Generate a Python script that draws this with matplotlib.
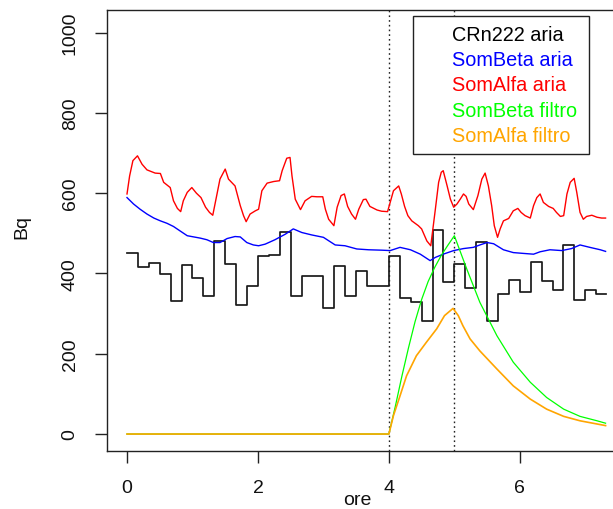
import numpy as np
import matplotlib
matplotlib.use("Agg")
import matplotlib.pyplot as plt
from matplotlib.patches import Rectangle

plt.rcParams['font.family'] = ['Liberation Sans', 'DejaVu Sans']

# --- CRn222 aria: 10-minute step values (hours) ---
rn_step = 1.0 / 6.0
rn_vals = [450, 417, 425, 398, 332, 422, 389, 343, 481, 423, 321, 369,
           443, 446, 504, 345, 394, 393, 315, 418, 345, 407, 369, 369,
           444, 339, 328, 282, 509, 378, 423, 365, 479, 282, 349, 384,
           354, 428, 382, 359, 471, 334, 359, 349]
t_end = 7.31

# --- SomAlfa aria ---
alfa_t = [0.00, 0.04, 0.09, 0.16, 0.23, 0.305, 0.43, 0.51, 0.56, 0.66, 0.71, 0.77,
          0.82, 0.86, 0.92, 0.99, 1.06, 1.13, 1.20, 1.26, 1.31, 1.37, 1.42, 1.50,
          1.55, 1.65, 1.73, 1.78, 1.82, 1.88, 1.96, 2.01, 2.06, 2.14, 2.24, 2.33,
          2.37, 2.44, 2.49, 2.52, 2.57, 2.65, 2.72, 2.82, 2.90, 2.99, 3.03, 3.08,
          3.16, 3.21, 3.27, 3.32, 3.37, 3.43, 3.49, 3.54, 3.61, 3.65, 3.71, 3.82,
          3.89, 3.98, 4.02, 4.07, 4.15, 4.19, 4.24, 4.29, 4.35, 4.45, 4.50, 4.58,
          4.64, 4.71, 4.76, 4.80, 4.83, 4.89, 4.94, 4.99, 5.04, 5.09, 5.14, 5.18,
          5.22, 5.29, 5.36, 5.42, 5.47, 5.52, 5.57, 5.61, 5.66, 5.70, 5.75, 5.83,
          5.90, 5.97, 6.02, 6.08, 6.16, 6.21, 6.26, 6.31, 6.36, 6.44, 6.51, 6.56,
          6.62, 6.67, 6.72, 6.77, 6.83, 6.87, 6.92, 6.97, 7.02, 7.10, 7.18, 7.25,
          7.31]
alfa_v = [598, 643, 681, 693, 672, 658, 650, 649, 627, 614, 581, 562,
          554, 581, 602, 614, 600, 589, 565, 552, 545, 594, 635, 660,
          635, 618, 569, 544, 529, 548, 556, 560, 606, 625, 629, 631,
          656, 687, 689, 643, 585, 559, 581, 592, 591, 591, 560, 535,
          519, 565, 594, 598, 567, 548, 535, 560, 584, 585, 567, 558,
          555, 554, 577, 606, 618, 598, 567, 544, 531, 519, 511, 481,
          469, 560, 627, 652, 656, 618, 585, 565, 573, 585, 598, 592,
          573, 559, 594, 635, 650, 618, 569, 519, 490, 511, 531, 537,
          556, 562, 552, 544, 538, 569, 589, 598, 577, 567, 562, 552,
          542, 544, 598, 627, 637, 602, 552, 535, 542, 545, 540, 538,
          538]

# --- SomBeta aria ---
beta_t = [0.00, 0.10, 0.20, 0.305, 0.41, 0.51, 0.61, 0.71, 0.81, 0.92, 1.02, 1.12,
          1.22, 1.32, 1.42, 1.53, 1.65, 1.73, 1.83, 1.93, 2.01, 2.11, 2.26, 2.42,
          2.54, 2.67, 2.82, 3.00, 3.18, 3.33, 3.51, 3.69, 3.89, 4.02, 4.17, 4.33,
          4.48, 4.63, 4.71, 4.83, 4.99, 5.14, 5.29, 5.39, 5.50, 5.60, 5.75, 5.90,
          6.05, 6.21, 6.31, 6.46, 6.64, 6.79, 6.92, 7.07, 7.23, 7.31]
beta_v = [589, 573, 560, 548, 538, 531, 525, 517, 506, 494, 491, 488,
          484, 477, 477, 487, 492, 491, 477, 471, 469, 473, 484, 498,
          511, 502, 496, 490, 471, 469, 461, 459, 458, 457, 465, 459,
          448, 432, 440, 448, 457, 462, 465, 471, 477, 474, 459, 452,
          450, 448, 454, 459, 457, 462, 471, 465, 459, 455]

# --- SomBeta filtro ---
fbeta_t = [0.0, 4.0, 4.1, 4.2, 4.3, 4.4, 4.5, 4.6, 4.7, 4.8, 4.9, 5.0,
           5.19, 5.39, 5.65, 5.90, 6.16, 6.41, 6.67, 6.92, 7.18, 7.31]
fbeta_v = [0, 0, 70, 145, 215, 280, 335, 380, 415, 445, 470, 494,
           411, 328, 245, 179, 129, 91, 62, 44, 33, 27]

# --- SomAlfa filtro ---
falfa_t = [0.0, 4.0, 4.07, 4.17, 4.27, 4.42, 4.57, 4.73, 4.85, 4.98, 5.06, 5.13,
           5.24, 5.39, 5.65, 5.90, 6.16, 6.41, 6.67, 6.92, 7.18, 7.31]
falfa_v = [0, 0, 46, 95, 145, 195, 228, 262, 295, 313, 295, 270,
           237, 207, 162, 120, 87, 62, 44, 33, 25, 21]

markers_t = [4, 5]
legend_labels = ["CRn222 aria", "SomBeta aria", "SomAlfa aria",
                 "SomBeta filtro", "SomAlfa filtro"]
legend_colors = ["black", "blue", "red", "#00FF00", "orange"]

W, H = 613, 510
fig = plt.figure(figsize=(W / 100, H / 100), dpi=100)

# plot region in pixels (right edge runs past the canvas)
left, right, top, bottom = 107.3, 637.0, 10.7, 451.7
ax = fig.add_axes([left / W, 1 - bottom / H, (right - left) / W, (bottom - top) / H])
ax.set_xlim(-0.301, 7.79)
ax.set_ylim(-41.5, 1057)

rn_t = np.arange(len(rn_vals)) * rn_step
ax.step(np.append(rn_t, t_end), np.append(rn_vals, rn_vals[-1]), where='post',
        color='#1a1a1a', lw=1.25)
ax.plot(beta_t, beta_v, color='blue', lw=1.0)
ax.plot(alfa_t, alfa_v, color='red', lw=1.0)
ax.plot(fbeta_t, fbeta_v, color='#00FF00', lw=0.9, zorder=2)
ax.plot(falfa_t, falfa_v, color='orange', lw=1.2, zorder=3)

for xm in markers_t:
    ax.axvline(xm, color='#222222', lw=1.0, ls=(0, (1.2, 2.2)), zorder=1)

ax.set_xticks([0, 2, 4, 6])
ax.set_yticks([0, 200, 400, 600, 800, 1000])
ax.tick_params(axis='both', length=8.6, width=1.0, color='#222222',
               labelsize=14, pad=12, labelcolor='#111111')
for lab in ax.get_yticklabels():
    lab.set_rotation(90)
    lab.set_va('center')
for sp in ax.spines.values():
    sp.set_linewidth(1.0)
    sp.set_color('#222222')

fig.text(22 / W, 1 - 227 / H, "Bq", rotation=90, ha='center', va='center',
         fontsize=14, color='#111111')
fig.text(357 / W, 1 - 501 / H, "ore", ha='center', va='center',
         fontsize=14, color='#111111')

# legend box
lx0, lx1, ly0, ly1 = 413.3, 589.3, 16.7, 155.0
box = Rectangle((lx0 / W, 1 - ly1 / H), (lx1 - lx0) / W, (ly1 - ly0) / H,
                transform=fig.transFigure, facecolor='white', edgecolor='#222222',
                lw=1.0, zorder=5)
fig.add_artist(box)
for i, (lab, col) in enumerate(zip(legend_labels, legend_colors)):
    fig.text(451.7 / W, 1 - (35.5 + 25.2 * i) / H, lab, color=col, fontsize=14.3,
             ha='left', va='center', zorder=6)

fig.savefig("out.png", dpi=100)
